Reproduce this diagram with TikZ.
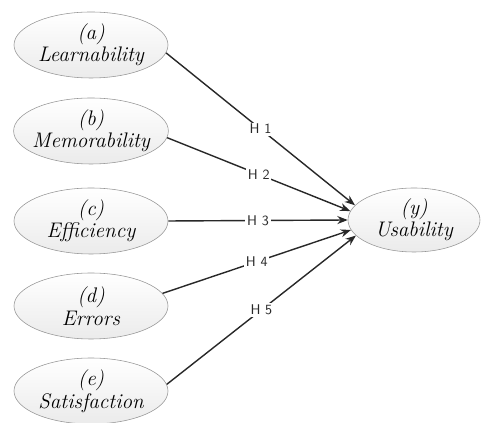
\documentclass[tikz,border=0pt]{standalone}
\usepackage{tikz}
\usetikzlibrary{
arrows.meta,
positioning,
shapes.geometric
}
\definecolor{usegray}{RGB}{150,150,150}
\definecolor{usefill}{RGB}{235,235,235}
\definecolor{useline}{RGB}{40,40,40}

\begin{document}
\begin{tikzpicture}[
  >={Stealth[length=2.6mm, width=2mm]},
  factor/.style={ellipse, draw=usegray, thin, top color=white, bottom color=usefill,
    minimum width=3.85cm, minimum height=1.65cm, inner sep=-3pt, align=center,
    font=\fontsize{15}{16}\selectfont\itshape},
  outcome/.style={factor, minimum width=3.3cm, minimum height=1.6cm},
  hyp/.style={->, line width=1pt, useline},
  hlabel/.style={midway, fill=white, inner sep=1.2pt, font=\sffamily\normalsize, text=useline}
]
\useasboundingbox (0,0) rectangle (12.075,10.575);

%% ── FACTORS ─────────────────────────────────────────────────────
\node[factor] (learn) at (2.275, 9.45) {(a)\\Learnability};
\node[factor] (memo)  at (2.275, 7.30) {(b)\\Memorability};
\node[factor] (effi)  at (2.275, 5.05) {(c)\\Efficiency};
\node[factor] (err)   at (2.275, 2.925) {(d)\\Errors};
\node[factor] (sat)   at (2.275, 0.80) {(e)\\Satisfaction};

%% ── OUTCOME ─────────────────────────────────────────────────────
\node[outcome] (usab) at (10.35, 5.075) {(y)\\Usability};

%% ── HYPOTHESES ──────────────────────────────────────────────────
\draw[hyp] (learn.-6) -- (usab.166) node[hlabel] {H 1};
\draw[hyp] (memo.-5)  -- (usab.172) node[hlabel] {H 2};
\draw[hyp] (effi.0)   -- (usab.180) node[hlabel] {H 3};
\draw[hyp] (err.10)   -- (usab.189) node[hlabel] {H 4};
\draw[hyp] (sat.5)    -- (usab.195) node[hlabel] {H 5};

\end{tikzpicture}
\end{document}
